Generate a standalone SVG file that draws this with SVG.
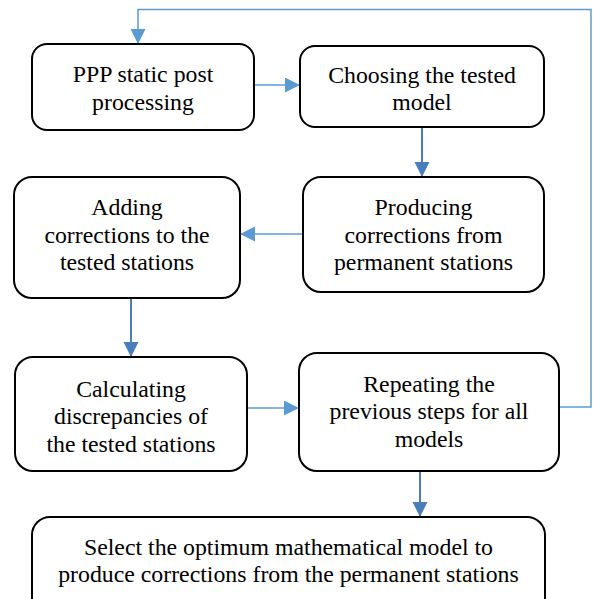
<svg xmlns="http://www.w3.org/2000/svg" width="594" height="599" viewBox="0 0 594 599">
<style>
.box{fill:#ffffff;stroke:#000000;stroke-width:2}
.t{font-family:"Liberation Serif","Times New Roman","Noto Serif","DejaVu Serif",serif;font-size:23.8px;fill:#000000;text-anchor:middle}
.cl{fill:none;stroke:#5B9BD5;stroke-width:1.5}
.cd{fill:none;stroke:#4A7EBB;stroke-width:2}
</style>
<defs>
<marker id="al" markerUnits="userSpaceOnUse" markerWidth="16" markerHeight="16" refX="15" refY="7.5" orient="auto"><path d="M0,0 L15,7.5 L0,15 z" fill="#5B9BD5"/></marker>
<marker id="ad" markerUnits="userSpaceOnUse" markerWidth="16" markerHeight="16" refX="15" refY="7.5" orient="auto"><path d="M0,0 L15,7.5 L0,15 z" fill="#4A7EBB"/></marker>
</defs>
<rect width="594" height="599" fill="#ffffff"/>
<g id="connectors">
<polyline class="cl" points="559,407 591,407 591,9.5 138,9.5 138,44" marker-end="url(#al)"/>
<line class="cl" x1="254" y1="85" x2="300" y2="85" marker-end="url(#al)"/>
<line class="cd" x1="422" y1="127" x2="422" y2="177" marker-end="url(#ad)"/>
<line class="cl" x1="303" y1="234" x2="240" y2="234" marker-end="url(#al)"/>
<line class="cd" x1="131" y1="298" x2="131" y2="357" marker-end="url(#ad)"/>
<line class="cl" x1="247" y1="408" x2="299" y2="408" marker-end="url(#al)"/>
<line class="cd" x1="420" y1="471" x2="420" y2="517" marker-end="url(#ad)"/>
</g>
<g id="n1">
<rect class="box" x="32" y="44" width="222" height="86" rx="15"/>
<text class="t" x="143" y="82">PPP static post</text>
<text class="t" x="143" y="110">processing</text>
</g>
<g id="n2">
<rect class="box" x="300" y="46" width="244" height="81" rx="15"/>
<text class="t" x="422" y="83">Choosing the tested</text>
<text class="t" x="422" y="110">model</text>
</g>
<g id="n3">
<rect class="box" x="14" y="177" width="226" height="121" rx="18"/>
<text class="t" x="127" y="215">Adding</text>
<text class="t" x="127" y="243">corrections to the</text>
<text class="t" x="127" y="270">tested stations</text>
</g>
<g id="n4">
<rect class="box" x="303" y="177" width="241" height="115" rx="18"/>
<text class="t" x="423.5" y="215">Producing</text>
<text class="t" x="423.5" y="243">corrections from</text>
<text class="t" x="423.5" y="270">permanent stations</text>
</g>
<g id="n5">
<rect class="box" x="15" y="357" width="232" height="114" rx="18"/>
<text class="t" x="131" y="397">Calculating</text>
<text class="t" x="131" y="424">discrepancies of</text>
<text class="t" x="131" y="452">the tested stations</text>
</g>
<g id="n6">
<rect class="box" x="299" y="353" width="260" height="118" rx="18"/>
<text class="t" x="429" y="392">Repeating the</text>
<text class="t" x="429" y="419">previous steps for all</text>
<text class="t" x="429" y="447">models</text>
</g>
<g id="n7">
<rect class="box" x="32" y="517" width="513" height="110" rx="18"/>
<text class="t" x="288.5" y="555">Select the optimum mathematical model to</text>
<text class="t" x="288.5" y="582">produce corrections from the permanent stations</text>
</g>
</svg>
